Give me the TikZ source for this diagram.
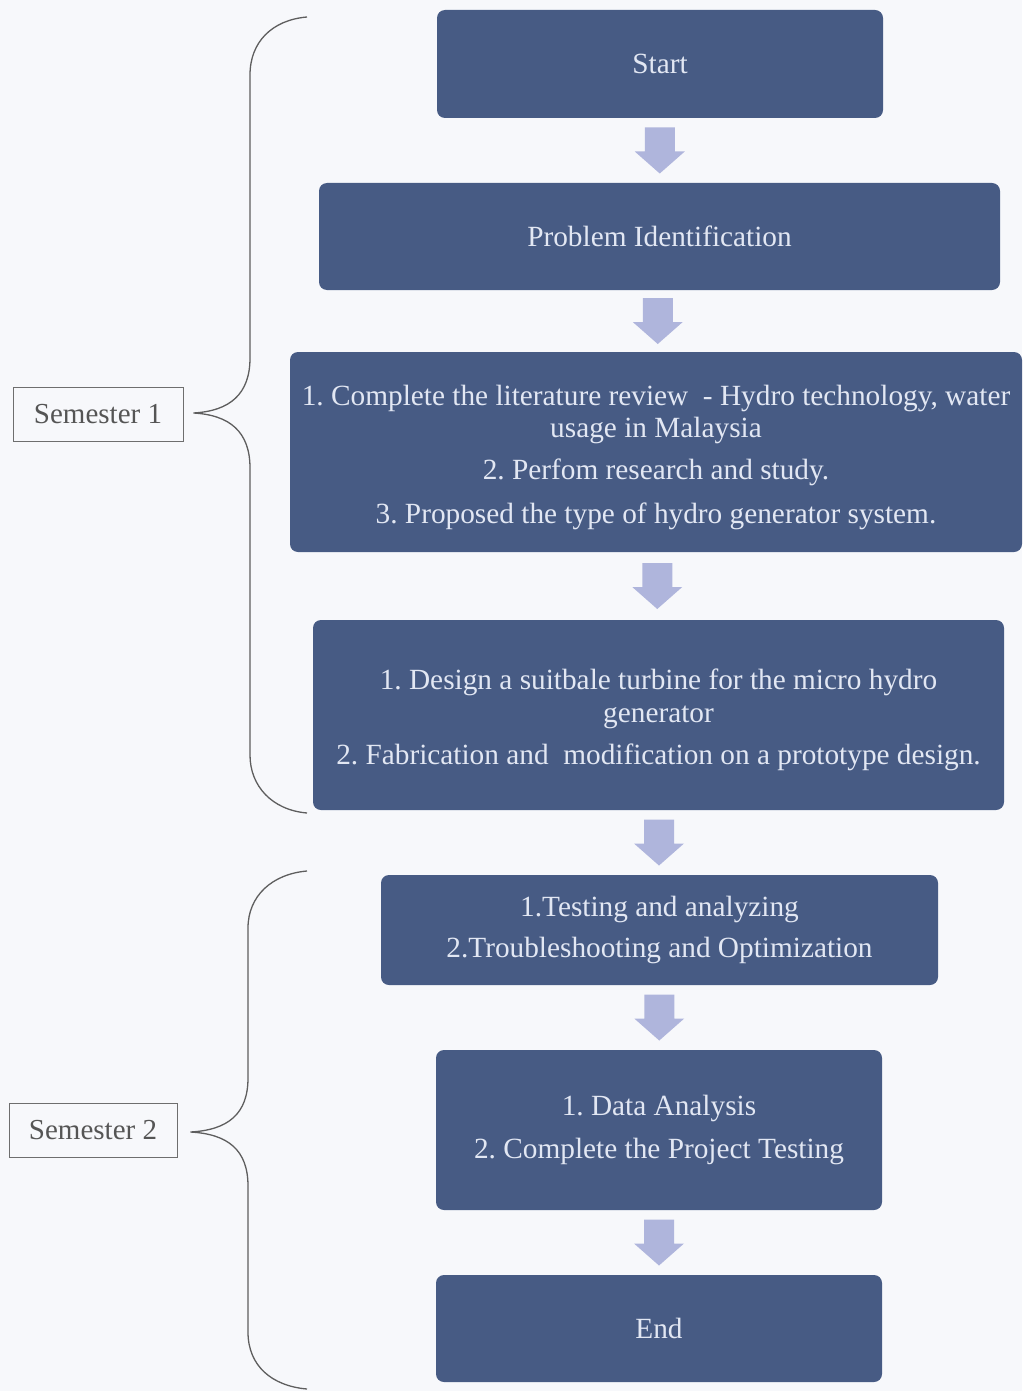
\documentclass[tikz,border=0pt]{standalone}
\usepackage{fontspec}
\setmainfont{Liberation Serif}
\usetikzlibrary{calc}
\definecolor{boxc}{HTML}{475B84}
\definecolor{boxtext}{HTML}{E2E7F3}
\definecolor{arrowc}{HTML}{AFB5DC}
\definecolor{bgc}{HTML}{F7F8FB}
\definecolor{semc}{HTML}{555555}
\definecolor{bracec}{HTML}{5E5E5E}
\newcommand{\blockarrow}[2]{%
  \path ($(#1.south)!0.5!(#2.north)$) coordinate (m#1);
  \fill[arrowc] (m#1) ++(-15,-23) -- ++(30,0) -- ++(0,24) -- ++(10,0) -- ++(-25,22) -- ++(-25,-22) -- ++(10,0) -- cycle;}
\newcommand{\topstrut}{\rule{0pt}{31pt}}
\begin{document}
\frenchspacing
\begin{tikzpicture}[x=1pt,y=-1pt,
  flowbox/.style={rectangle, rounded corners=8pt, fill=boxc, text=boxtext, align=center,
     inner sep=0pt, font=\fontsize{29.3}{32.5}\selectfont},
  semlabel/.style={rectangle, draw=semc!85, line width=0.8pt, text=semc, inner sep=0pt,
     font=\fontsize{29}{32}\selectfont},
  bracestyle/.style={draw=bracec, line width=1.3pt}]
\fill[bgc] (0,0) rectangle (1022,1391);
\useasboundingbox (0,0) rectangle (1022,1391);

\node[flowbox, minimum width=446pt, minimum height=108pt] (start) at (660,64) {Start};
\node[flowbox, minimum width=681pt, minimum height=107pt] (prob) at (659.5,236.5) {Problem Identification};
\node[flowbox, minimum width=732pt, minimum height=200pt] (lit) at (656,452) {\topstrut 1. Complete the literature review\ \ - Hydro technology, water\\ usage in Malaysia\\[9pt] 2. Perfom research and study.\\[12pt] 3. Proposed the type of hydro generator system.};
\node[flowbox, minimum width=691pt, minimum height=190pt] (design) at (658.5,715) {\topstrut 1. Design a suitbale turbine for the micro hydro\\ generator\\[10pt] 2. Fabrication and\ \ modification on a prototype design.};
\node[flowbox, minimum width=557pt, minimum height=110pt] (test) at (659.5,930) {1.Testing and analyzing\\[9pt] 2.Troubleshooting and Optimization};
\node[flowbox, minimum width=446pt, minimum height=160pt] (data) at (659,1130) {1. Data Analysis\\[11pt] 2. Complete the Project Testing};
\node[flowbox, minimum width=446pt, minimum height=107pt] (end) at (659,1328.5) {End};

\blockarrow{start}{prob}
\blockarrow{prob}{lit}
\blockarrow{lit}{design}
\blockarrow{design}{test}
\blockarrow{test}{data}
\blockarrow{data}{end}

\node[semlabel, minimum width=170pt, minimum height=54pt] (sem1) at (98,414) {Semester 1};
\node[semlabel, minimum width=168pt, minimum height=54pt] (sem2) at (93,1130) {Semester 2};

\coordinate (tip1) at ($(sem1.east)+(10,-1)$);
\coordinate (tip2) at ($(sem2.east)+(13,2)$);

\draw[bracestyle] (307,17) .. controls (272,20) and (250,42) .. (250,75) -- (250,358)
  .. controls (250,394) and (230,411) .. (tip1)
  .. controls (230,415) and (250,432) .. (250,468) -- (250,755)
  .. controls (250,786) and (272,810) .. (307,813);
\draw[bracestyle] (307,871) .. controls (272,874) and (248,896) .. (248,928) -- (248,1078)
  .. controls (248,1114) and (228,1130) .. (tip2)
  .. controls (228,1134) and (248,1150) .. (248,1186) -- (248,1332)
  .. controls (248,1366) and (272,1386) .. (307,1389);
\end{tikzpicture}
\end{document}
